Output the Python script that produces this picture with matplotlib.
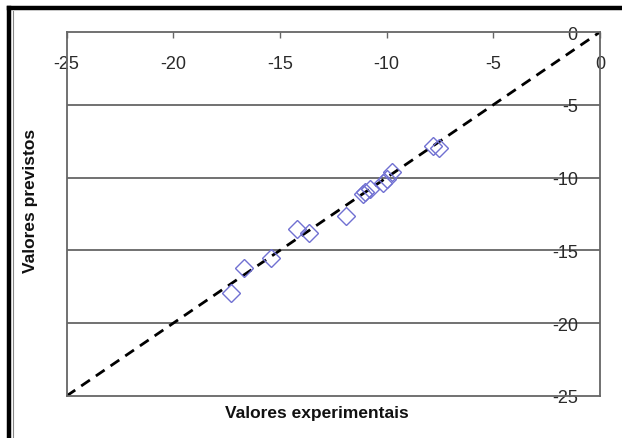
import matplotlib
matplotlib.use("Agg")
import matplotlib.pyplot as plt
from matplotlib.lines import Line2D

plt.rcParams['font.family'] = ['Liberation Sans', 'DejaVu Sans']
plt.rcParams['axes.unicode_minus'] = False

# data
experimental = [-17.31, -16.67, -15.43, -14.18, -13.62, -11.90, -11.01, -10.78,
                -11.10, -10.17, -9.98, -9.75, -7.81, -7.53]
predicted = [-17.95, -16.21, -15.54, -13.53, -13.80, -12.66, -10.99, -10.78,
             -11.13, -10.37, -10.10, -9.62, -7.85, -7.99]
diag = [-25, 0]
ticks = [-25, -20, -15, -10, -5, 0]
tick_labels = ['-25', '-20', '-15', '-10', '-5', '0']
grid_y = [-5, -10, -15, -20]

W, H = 622, 439
fig = plt.figure(figsize=(W / 100, H / 100), dpi=100)
ax = fig.add_axes([66.5 / W, 1 - 397 / H, (600 - 66.5) / W, (397 - 33) / H])

ax.set_xlim(-25, 0)
ax.set_ylim(-25, 0)

for g in grid_y:
    ax.axhline(g, color='#666666', lw=1.3, zorder=1)

ax.plot(diag, diag, color='black', lw=2, dashes=(3.8, 2.6), zorder=2)
ax.plot(experimental, predicted, linestyle='none', marker='D', ms=9,
        mfc='none', mec='#7070d2', mew=1.0, zorder=3)

ax.set_xticks(ticks)
ax.set_xticklabels(tick_labels)
ax.set_yticks(ticks)
ax.set_yticklabels(tick_labels)

ax.tick_params(axis='x', top=True, bottom=False, labeltop=True, labelbottom=False,
               direction='in', length=4, width=1, color='#666666', pad=-29,
               labelsize=13, labelcolor='#2a2a2a')
ax.tick_params(axis='y', right=True, left=False, labelright=True, labelleft=False,
               direction='in', length=0, pad=-16, labelsize=13, labelcolor='#2a2a2a')
for lab in ax.get_yticklabels():
    lab.set_horizontalalignment('right')

for s in ax.spines.values():
    s.set_color('#666666')
    s.set_linewidth(1.3)

ax.set_xlabel('Valores experimentais', fontsize=12.5, fontweight='bold', color='#111111')
ax.set_ylabel('Valores previstos', fontsize=12.5, fontweight='bold', color='#111111')
ax.yaxis.set_label_position('left')
ax.xaxis.set_label_position('bottom')
ax.xaxis.set_label_coords(0.4695, -0.026)
ax.yaxis.set_label_coords(-0.053, 0.538)

# outer frame (cropped chart border)
fig.add_artist(Line2D([9 / W, 9 / W], [0, 1 - 9 / H], color='black', lw=3.2,
                      transform=fig.transFigure))
fig.add_artist(Line2D([9 / W, 1], [1 - 9 / H, 1 - 9 / H], color='black', lw=3.2,
                      transform=fig.transFigure))
fig.add_artist(Line2D([12.8 / W, 12.8 / W], [0, 1 - 12 / H], color='#888888', lw=0.8,
                      transform=fig.transFigure))

fig.savefig('out.png', dpi=100)
